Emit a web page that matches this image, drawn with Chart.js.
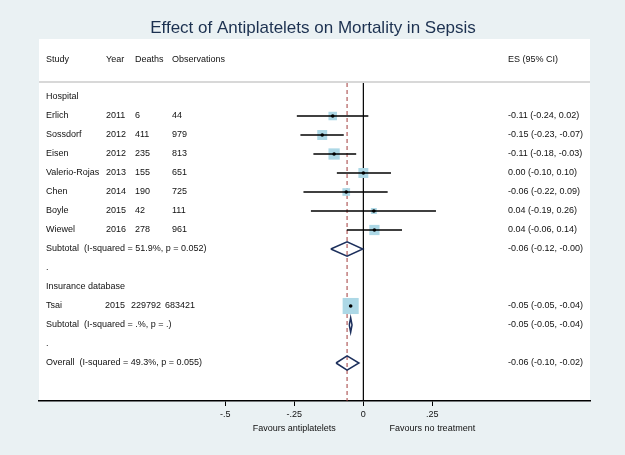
<!DOCTYPE html>
<html>
<head>
<meta charset="utf-8">
<title>Effect of Antiplatelets on Mortality in Sepsis</title>
<script src="https://cdn.jsdelivr.net/npm/chart.js@4/dist/chart.umd.min.js"></script>
<style>
  html, body { margin: 0; padding: 0; background: #eaf1f3; }
  #forest { display: block; }
</style>
</head>
<body>
<canvas id="forest" width="625" height="455"></canvas>
<script>
// rows of the plot, top to bottom
const rowLabels = [
    'Hospital', 'Erlich', 'Sossdorf', 'Eisen', 'Valerio-Rojas', 'Chen', 'Boyle', 'Wiewel',
    'Subtotal  (I-squared = 51.9%, p = 0.052)', '.',
    'Insurance database', 'Tsai', 'Subtotal  (I-squared = .%, p = .)', '.',
    'Overall  (I-squared = 49.3%, p = 0.055)'
];

// individual studies
const studies = ['Erlich', 'Sossdorf', 'Eisen', 'Valerio-Rojas', 'Chen', 'Boyle', 'Wiewel', 'Tsai'];
const years = [2011, 2012, 2012, 2013, 2014, 2015, 2016, 2015];
const deaths = [6, 411, 235, 155, 190, 42, 278, 229792];
const observations = [44, 979, 813, 651, 725, 111, 961, 683421];
const es = [-0.111, -0.149, -0.106, 0.000, -0.062, 0.038, 0.040, -0.046];
const ciLow = [-0.241, -0.228, -0.181, -0.096, -0.217, -0.190, -0.060, -0.052];
const ciHigh = [0.018, -0.071, -0.026, 0.100, 0.088, 0.263, 0.140, -0.041];
const weights = [8.2, 11.2, 14.4, 11.2, 6.7, 4.0, 11.9, 29.3];

// pooled estimates (diamonds)
const pooledRows = [8, 12, 14];
const pooledES = [-0.059, -0.046, -0.059];
const pooledLow = [-0.118, -0.051, -0.099];
const pooledHigh = [-0.002, -0.041, -0.016];

const xTicks = [-0.5, -0.25, 0, 0.25];
const headers = ['Study', 'Year', 'Deaths', 'Observations', 'ES (95% CI)'];
const favours = ['Favours antiplatelets', 'Favours no treatment'];

// layout
const FONT = '"Liberation Sans", Arial, sans-serif';
const colX = { label: 46, year: 106, deaths: 135, obs: 172, es: 508 };
const wideColX = { year: 105, deaths: 131, obs: 165 };
const Y_MIN = -0.737, Y_MAX = 16;
const NAVY = '#1c2f5c';

const rowOf = name => rowLabels.indexOf(name);
const fmt = v => (v < 0 ? '-' : '') + Math.abs(v).toFixed(2);
const esText = (e, l, h) => `${fmt(e)} (${fmt(l)}, ${fmt(h)})`;

const datasets = [];

// reference lines
datasets.push({
    data: [{ x: 0, y: Y_MIN }, { x: 0, y: Y_MAX }],
    showLine: true, borderColor: '#000', borderWidth: 1.2, pointRadius: 0, order: 4,
});
datasets.push({
    data: [{ x: pooledES[2], y: Y_MIN }, { x: pooledES[2], y: Y_MAX }],
    showLine: true, borderColor: '#a23b3b', borderWidth: 1, borderDash: [4, 3], pointRadius: 0, order: 4,
});

// weight boxes
datasets.push({
    data: studies.map((s, i) => ({ x: es[i], y: rowOf(s) })),
    pointStyle: 'rect',
    pointRadius: weights.map(w => 2.1 * Math.sqrt(w)),
    backgroundColor: '#add8e6', borderWidth: 0, order: 3,
});

// confidence intervals
studies.forEach((s, i) => {
    datasets.push({
        data: [{ x: ciLow[i], y: rowOf(s) }, { x: ciHigh[i], y: rowOf(s) }],
        showLine: true, borderColor: '#000', borderWidth: 1.5, pointRadius: 0, order: 2,
    });
});

// point estimates
datasets.push({
    data: studies.map((s, i) => ({ x: es[i], y: rowOf(s) })),
    pointRadius: 1.8, backgroundColor: '#000', borderWidth: 0, order: 0,
});

// diamonds
pooledRows.forEach((r, i) => {
    const h = 0.38;
    datasets.push({
        data: [
            { x: pooledLow[i], y: r }, { x: pooledES[i], y: r - h },
            { x: pooledHigh[i], y: r }, { x: pooledES[i], y: r + h },
            { x: pooledLow[i], y: r },
        ],
        showLine: true, borderColor: NAVY, borderWidth: 1.5, pointRadius: 0,
        fill: false, tension: 0, order: 1,
    });
});

const forestText = {
    id: 'forestText',
    beforeDraw(chart) {
        const { ctx, chartArea: a } = chart;
        ctx.save();
        ctx.fillStyle = '#eaf1f3';
        ctx.fillRect(0, 0, chart.width, chart.height);
        ctx.fillStyle = '#fff';
        ctx.fillRect(a.left, 39, a.right - a.left, a.bottom - 39);
        ctx.strokeStyle = '#d8d8d8';
        ctx.lineWidth = 2;
        ctx.beginPath();
        ctx.moveTo(a.left, 82);
        ctx.lineTo(a.right, 82);
        ctx.stroke();
        ctx.restore();
    },
    afterDraw(chart) {
        const { ctx, scales: { x, y } } = chart;
        ctx.save();
        ctx.textBaseline = 'middle';

        ctx.fillStyle = '#1c3150';
        ctx.font = `17px ${FONT}`;
        ctx.textAlign = 'center';
        ctx.fillText('Effect of Antiplatelets on Mortality in Sepsis', 313, 28);

        ctx.fillStyle = '#111';
        ctx.font = `9px ${FONT}`;
        ctx.textAlign = 'left';
        const hx = [colX.label, colX.year, colX.deaths, colX.obs, colX.es];
        headers.forEach((t, i) => ctx.fillText(t, hx[i], 60));

        rowLabels.forEach((t, r) => ctx.fillText(t, colX.label, y.getPixelForValue(r)));

        studies.forEach((s, i) => {
            const py = y.getPixelForValue(rowOf(s));
            const cols = String(deaths[i]).length > 3 ? wideColX : colX;
            ctx.fillText(String(years[i]), cols.year, py);
            ctx.fillText(String(deaths[i]), cols.deaths, py);
            ctx.fillText(String(observations[i]), cols.obs, py);
            ctx.fillText(esText(es[i], ciLow[i], ciHigh[i]), colX.es, py);
        });
        pooledRows.forEach((r, i) => {
            ctx.fillText(esText(pooledES[i], pooledLow[i], pooledHigh[i]), colX.es, y.getPixelForValue(r));
        });

        ctx.textAlign = 'center';
        ctx.fillText(favours[0], x.getPixelForValue(-0.25), 429);
        ctx.fillText(favours[1], x.getPixelForValue(0.25), 429);
        ctx.restore();
    }
};

new Chart(document.getElementById('forest'), {
    type: 'scatter',
    data: { datasets },
    options: {
        responsive: false,
        animation: false,
        layout: { padding: { left: 39, right: 35, top: 83, bottom: 26 } },
        plugins: { legend: { display: false }, tooltip: { enabled: false } },
        scales: {
            x: {
                type: 'linear',
                min: -1.175,
                max: 0.821,
                afterBuildTicks: s => { s.ticks = xTicks.map(v => ({ value: v })); },
                afterFit: s => { s.height = 28; },
                grid: { drawOnChartArea: false, tickLength: 5, color: '#000', lineWidth: 1 },
                border: { display: true, color: '#000', width: 1.5 },
                ticks: {
                    autoSkip: false, maxRotation: 0, padding: 3, color: '#111',
                    font: { size: 9, family: FONT },
                    callback: v => v === 0 ? '0' : (v < 0 ? '-' : '') + String(Math.abs(v)).replace(/^0/, ''),
                },
            },
            y: { display: false, reverse: true, min: Y_MIN, max: Y_MAX },
        },
    },
    plugins: [forestText],
});
</script>
</body>
</html>
